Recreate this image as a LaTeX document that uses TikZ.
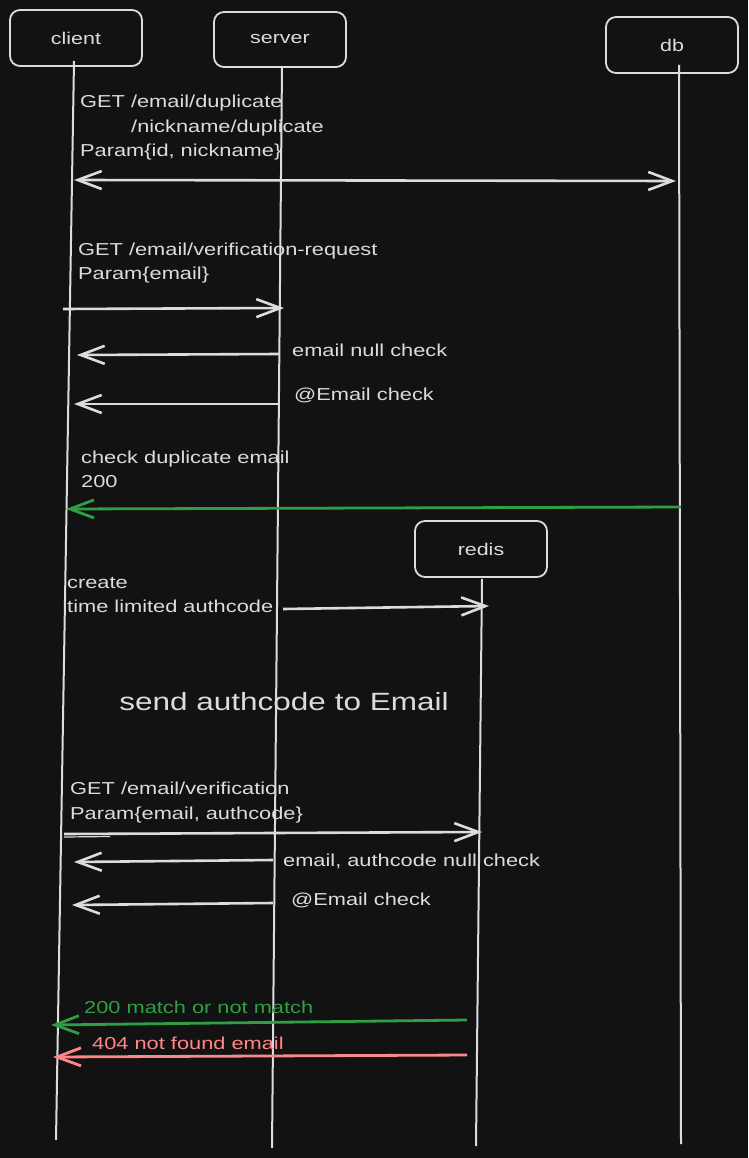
\documentclass[tikz,border=0pt]{standalone}
\usepackage{fontspec}
\setmainfont{Liberation Sans}[FakeStretch=1.26]
\usetikzlibrary{arrows.meta}
\definecolor{bg}{HTML}{121212}
\definecolor{ink}{HTML}{DCDCDC}
\definecolor{okgreen}{HTML}{2F9E44}
\definecolor{errred}{HTML}{FF8787}
\begin{document}
\begin{tikzpicture}[x=1pt,y=-1pt,
  >={Straight Barb[length=24pt,width=18pt]},
  actor/.style={draw=ink, line width=1.8pt, rounded corners=10pt, minimum width=132pt, minimum height=56pt, text=ink, font=\fontsize{17}{20}\selectfont},
  life/.style={draw=ink, line width=2pt},
  msg/.style={draw=ink, line width=2.6pt, ->},
  lbl/.style={text=ink, anchor=base west, inner sep=0pt, font=\fontsize{17.3}{21}\selectfont},
  big/.style={text=ink, anchor=base, inner sep=0pt, font=\fontsize{25}{29}\selectfont},
]
\fill[bg] (0,0) rectangle (748,1158);
\useasboundingbox (0,0) rectangle (748,1158);

% actors
\node[actor] (client) at (76,38) {client};
\node[actor, minimum height=55pt] (server) at (280,39.5) {server};
\node[actor] (db) at (672,45) {db};
\node[actor] (redis) at (481,549) {redis};

% lifelines
\coordinate (cT) at (74,61);  \coordinate (cB) at (56,1140);
\coordinate (sT) at (282,66); \coordinate (sB) at (272,1148);
\coordinate (dT) at (679,65); \coordinate (dB) at (681,1144);
\coordinate (rT) at (482,579); \coordinate (rB) at (476,1146);
\draw[life] (cT) -- (cB);
\draw[life] (sT) -- (sB);
\draw[life] (dT) -- (dB);
\draw[life] (rT) -- (rB);

% message 1
\node[lbl] (t1a) at (80,108) {GET /email/duplicate};
\node[lbl] (t1b) at (131,133) {/nickname/duplicate};
\node[lbl] (t1c) at (80,157) {Param\{id, nickname\}};
\coordinate (m1a) at (74,180); \coordinate (m1b) at (676,181);
\draw[msg, <->] (m1a) -- (m1b);

% message 2
\node[lbl] (t2a) at (78,255) {GET /email/verification-request};
\node[lbl] (t2b) at (78,279) {Param\{email\}};
\coordinate (m2a) at (63,309); \coordinate (m2b) at (284,308);
\draw[msg] (m2a) -- (m2b);

% message 3
\node[lbl] (t3) at (292,356) {email null check};
\coordinate (m3a) at (279,354); \coordinate (m3b) at (77,355);
\draw[msg] (m3a) -- (m3b);

% message 4
\node[lbl] (t4) at (294,400) {@Email check};
\coordinate (m4a) at (279,404); \coordinate (m4b) at (74,404);
\draw[msg] (m4a) -- (m4b);

% message 5
\node[lbl] (t5a) at (81,463) {check duplicate email};
\node[lbl] (t5b) at (81,487) {200};
\coordinate (m5a) at (681,507); \coordinate (m5b) at (66,509);
\draw[msg, draw=okgreen, line width=2.8pt] (m5a) -- (m5b);

% message 6
\node[lbl] (t6a) at (67,588) {create};
\node[lbl] (t6b) at (67,612) {time limited authcode};
\coordinate (m6a) at (283,609); \coordinate (m6b) at (489,606);
\draw[msg] (m6a) -- (m6b);

% note
\node[big] (note) at (284,710) {send authcode to Email};

% message 8
\node[lbl] (t8a) at (70,794) {GET /email/verification};
\node[lbl] (t8b) at (70,819) {Param\{email, authcode\}};
\coordinate (m8a) at (64,834); \coordinate (m8b) at (482,832);
\coordinate (m8c) at (64,837); \coordinate (m8d) at (110,836.5);
\draw[msg] (m8a) -- (m8b);
\draw[draw=ink, line width=1.2pt] (m8c) -- (m8d);

% message 9
\node[lbl] (t9) at (283,866) {email, authcode null check};
\coordinate (m9a) at (273,860); \coordinate (m9b) at (74,862);
\draw[msg] (m9a) -- (m9b);

% message 10
\node[lbl] (t10) at (291,905) {@Email check};
\coordinate (m10a) at (273,903); \coordinate (m10b) at (72,905);
\draw[msg] (m10a) -- (m10b);

% message 11
\node[lbl, text=okgreen] (t11) at (84,1013) {200 match or not match};
\coordinate (m11a) at (467,1020); \coordinate (m11b) at (51,1025);
\draw[msg, draw=okgreen, line width=2.8pt] (m11a) -- (m11b);

% message 12
\node[lbl, text=errred] (t12) at (92,1049) {404 not found email};
\coordinate (m12a) at (467,1055); \coordinate (m12b) at (53,1057);
\draw[msg, draw=errred, line width=2.8pt] (m12a) -- (m12b);
\end{tikzpicture}
\end{document}
